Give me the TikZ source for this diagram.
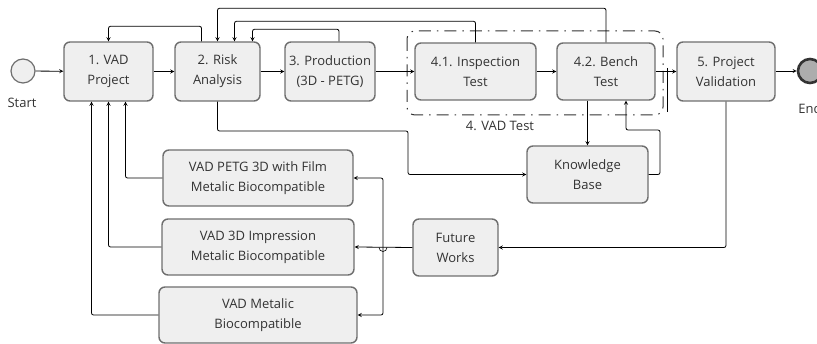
\documentclass[tikz,border=0pt]{standalone}
\usepackage{fontspec}
\setmainfont{Open Sans}
\usepackage{tikz}
\usetikzlibrary{arrows}
\usetikzlibrary{calc}
\definecolor{boxfill}{HTML}{EFEFEF}
\definecolor{boxline}{HTML}{6E6E6E}
\definecolor{txt}{HTML}{333333}
\tikzset{
  stage/.style={draw=boxline, fill=boxfill, line width=1.4pt, rounded corners=6pt,
    align=center, minimum height=57pt, inner sep=2pt, text=txt,
    font=\fontsize{13}{20}\selectfont},
  flow/.style={-stealth, line width=0.8pt, rounded corners=2pt},
  lbl/.style={text=txt, font=\fontsize{13}{16}\selectfont}
}

\begin{document}
\begin{tikzpicture}[x=1pt,y=-1pt]
  \useasboundingbox (0,0) rectangle (817,344);
  \node[circle, draw=boxline, fill=boxfill, line width=1.2pt, minimum size=24pt, inner sep=0pt] (start) at (23,71) {};
  \node[lbl] (startlbl) at (22,103) {Start};
  \node[circle, draw=black!80, fill=black!32, line width=2.6pt, minimum size=24pt, inner sep=0pt] (end) at (810,71) {};
  \node[lbl] (endlbl) at (810,109) {End};

  \draw[black!80, line width=1pt, rounded corners=8pt, dash pattern=on 12pt off 6pt on 1.5pt off 6pt]
    (407,31) rectangle (663,115);
  \node[lbl] (grplbl) at (500,126) {4. VAD Test};

  \node[stage, minimum width=89pt, minimum height=59pt] (p1) at (108.5,71.5) {1. VAD\\Project};
  \node[stage, minimum width=85pt, minimum height=59pt] (p2) at (217.5,71.5) {2. Risk\\Analysis};
  \node[stage, minimum width=90pt, minimum height=59pt] (p3) at (330,71.5) {3. Production\\(3D - PETG)};
  \node[stage, minimum width=121pt] (p41) at (475.5,71.5) {4.1. Inspection\\Test};
  \node[stage, minimum width=98pt] (p42) at (606,71.5) {4.2. Bench\\Test};
  \node[stage, minimum width=98pt, minimum height=59pt] (p5) at (726,71.5) {5. Project\\Validation};
  \node[stage, minimum width=121pt] (kb) at (587.5,174.5) {Knowledge\\Base};
  \node[stage, minimum width=85pt] (fw) at (455.5,247.5) {Future\\Works};
  \node[stage, minimum width=190pt, minimum height=56pt] (f1) at (258,178) {VAD PETG 3D with Film\\Metalic Biocompatible};
  \node[stage, minimum width=192pt, minimum height=56pt] (f2) at (258,247) {VAD 3D Impression\\Metalic Biocompatible};
  \node[stage, minimum width=198pt, minimum height=56pt] (f3) at (258,315) {VAD Metalic\\Biocompatible};
  \coordinate (split) at (383,247.5);

  \draw[flow] (start) -- (p1);
  \draw[flow] (p1) -- (p2);
  \draw[flow] (p2) -- (p3);
  \draw[flow] (p3) -- (p41);
  \draw[flow] (p41) -- (p42);
  \draw[flow] (p42) -- (p5);
  \draw[flow] (end.west -| p5.east) -- (end);

  \draw[flow] ([xshift=-16pt]p2.north) -- ++(0,-15) -| (p1.north);
  \draw[flow] ([xshift=9pt]p3.north) -- ++(0,-12) -| ([xshift=35pt]p2.north);
  \draw[flow] (p41.north) -- ++(0,-21) -| ([xshift=17pt]p2.north);
  \draw[flow] (p42.north) -- ++(0,-34) -| (p2.north);

  \draw[flow] (p2.south) |- (408,131) |- (kb.west);
  \draw[flow] (kb.north |- p42.south) -- (kb.north);
  \draw[flow] (kb.east) -| (660,130) -| ([xshift=20pt]p42.south);
  \draw[line width=0.8pt] (667,68) -- (667,112);

  \draw[flow] (p5.south) |- (fw.east);
  \draw[flow] (fw.west) -- (f2.east);
  \draw[flow] (split) |- (f1.east);
  \draw[flow] (split) |- (f3.east);
  \draw[line width=0.6pt] ([xshift=-4pt]split) arc (180:360:4pt);

  \draw[flow] (f1.west) -| ([xshift=17pt]p1.south);
  \draw[flow] (f2.west) -| (p1.south);
  \draw[flow] (f3.west) -| ([xshift=-17pt]p1.south);
\end{tikzpicture}
\end{document}
